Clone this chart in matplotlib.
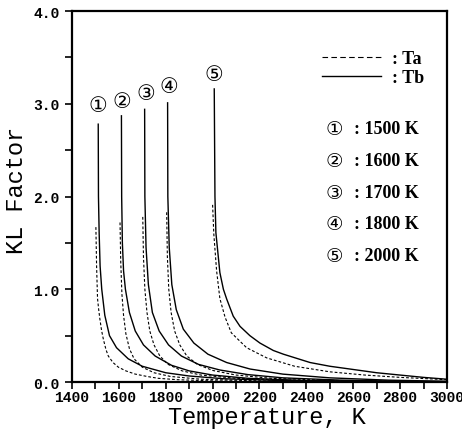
import matplotlib
matplotlib.use("Agg")
import matplotlib.pyplot as plt
from matplotlib.lines import Line2D
from matplotlib.ticker import MultipleLocator, FormatStrFormatter

# Reference temperatures and labels
ref_temps = [1500, 1600, 1700, 1800, 2000]
marks = ["\u2460", "\u2461", "\u2462", "\u2463", "\u2464"]

# Tb curves (solid)
tb_1500_t = [1512, 1513, 1516, 1520, 1527, 1540, 1560, 1590, 1640, 1700, 1800, 1900, 2050, 2300, 2600, 3000]
tb_1500_v = [2.78, 2.00, 1.60, 1.25, 1.00, 0.72, 0.50, 0.37, 0.25, 0.17, 0.10, 0.065, 0.035, 0.015, 0.006, 0.002]
tb_1600_t = [1611, 1612, 1615, 1620, 1628, 1645, 1670, 1705, 1755, 1825, 1900, 2000, 2150, 2400, 2700, 3000]
tb_1600_v = [2.87, 2.00, 1.50, 1.20, 1.00, 0.75, 0.55, 0.40, 0.28, 0.18, 0.12, 0.075, 0.04, 0.015, 0.006, 0.002]
tb_1700_t = [1710, 1711, 1716, 1726, 1743, 1772, 1812, 1867, 1940, 2030, 2150, 2300, 2550, 2800, 3000]
tb_1700_v = [2.94, 2.00, 1.45, 1.05, 0.75, 0.55, 0.40, 0.28, 0.19, 0.13, 0.08, 0.045, 0.02, 0.008, 0.004]
tb_1800_t = [1808, 1809, 1815, 1826, 1845, 1875, 1920, 1980, 2060, 2160, 2300, 2500, 2750, 3000]
tb_1800_v = [3.01, 2.00, 1.45, 1.05, 0.78, 0.57, 0.42, 0.30, 0.21, 0.14, 0.085, 0.045, 0.02, 0.008]
tb_2000_t = [2007, 2010, 2014, 2031, 2046, 2060, 2088, 2117, 2159, 2202, 2259, 2302, 2416, 2500, 2586, 2700, 2800, 2900, 3000]
tb_2000_v = [3.16, 2.00, 1.61, 1.18, 1.00, 0.895, 0.71, 0.60, 0.50, 0.42, 0.34, 0.30, 0.21, 0.17, 0.14, 0.10, 0.075, 0.05, 0.03]

# Ta curves (dashed)
ta_1500_t = [1502, 1505, 1509, 1514, 1519, 1526, 1534, 1545, 1555, 1575, 1598, 1630, 1669, 1720, 1768, 1850, 2000, 2300, 3000]
ta_1500_v = [1.67, 1.25, 0.90, 0.78, 0.68, 0.56, 0.46, 0.35, 0.28, 0.21, 0.16, 0.12, 0.086, 0.06, 0.04, 0.025, 0.012, 0.004, 0.001]
ta_1600_t = [1605, 1608, 1613, 1620, 1630, 1645, 1665, 1700, 1750, 1820, 1950, 2200, 2600, 3000]
ta_1600_v = [1.72, 1.30, 0.95, 0.72, 0.52, 0.36, 0.25, 0.16, 0.10, 0.06, 0.03, 0.012, 0.004, 0.001]
ta_1700_t = [1702, 1705, 1711, 1720, 1732, 1750, 1775, 1810, 1870, 1950, 2100, 2350, 2700, 3000]
ta_1700_v = [1.78, 1.35, 1.00, 0.75, 0.55, 0.40, 0.28, 0.19, 0.12, 0.075, 0.04, 0.018, 0.006, 0.002]
ta_1800_t = [1804, 1807, 1813, 1823, 1838, 1860, 1890, 1935, 2000, 2100, 2250, 2500, 2800, 3000]
ta_1800_v = [1.83, 1.35, 1.00, 0.75, 0.55, 0.40, 0.28, 0.19, 0.125, 0.075, 0.04, 0.018, 0.007, 0.003]
ta_2000_t = [2000, 2005, 2017, 2031, 2053, 2080, 2145, 2231, 2350, 2500, 2650, 2800, 3000]
ta_2000_v = [1.91, 1.60, 1.20, 0.90, 0.70, 0.53, 0.37, 0.26, 0.17, 0.11, 0.075, 0.05, 0.025]

tb_curves = [(tb_1500_t, tb_1500_v), (tb_1600_t, tb_1600_v), (tb_1700_t, tb_1700_v),
             (tb_1800_t, tb_1800_v), (tb_2000_t, tb_2000_v)]
ta_curves = [(ta_1500_t, ta_1500_v), (ta_1600_t, ta_1600_v), (ta_1700_t, ta_1700_v),
             (ta_1800_t, ta_1800_v), (ta_2000_t, ta_2000_v)]

# where the circled numbers sit above each Tb peak
mark_t = [1512, 1612, 1716, 1812, 2006]
mark_v = [2.99, 3.03, 3.12, 3.19, 3.32]

mono = ["Liberation Mono", "DejaVu Sans Mono"]
serif = ["Liberation Serif", "DejaVu Sans"]

fig = plt.figure(figsize=(4.62, 4.35), dpi=100)
ax = fig.add_axes([0.1558, 0.1195, 0.8117, 0.8529])

for t, v in tb_curves:
    ax.plot(t, v, color="black", lw=1.0, solid_joinstyle="round")
for t, v in ta_curves:
    ax.plot(t, v, color="black", lw=0.8, dashes=(2.5, 1.8))

for m, t, v in zip(marks, mark_t, mark_v):
    ax.text(t, v, m, ha="center", va="center", fontsize=15, family=["DejaVu Sans"])

# legend for line styles
handles = [Line2D([], [], color="black", lw=0.8, dashes=(5, 3)),
           Line2D([], [], color="black", lw=1.0)]
ax.legend(handles, [": Ta", ": Tb"], loc="upper left", bbox_to_anchor=(0.642, 0.918),
          frameon=False, handlelength=3.3, handletextpad=0.6, labelspacing=0.1,
          borderpad=0, prop={"family": serif, "weight": "bold", "size": 13})

# temperature key
key_y = [0.682, 0.596, 0.511, 0.426, 0.340]
for m, T, y in zip(marks, ref_temps, key_y):
    ax.text(0.700, y, m, transform=ax.transAxes, ha="center", va="center",
            fontsize=14, family=["DejaVu Sans"])
    ax.text(0.752, y, f": {T} K", transform=ax.transAxes, ha="left", va="center",
            fontsize=13, weight="bold", family=serif)

ax.set_xlim(1400, 3000)
ax.set_ylim(0, 4)
ax.xaxis.set_major_locator(MultipleLocator(200))
ax.xaxis.set_minor_locator(MultipleLocator(100))
ax.yaxis.set_major_locator(MultipleLocator(1.0))
ax.yaxis.set_minor_locator(MultipleLocator(0.5))
ax.yaxis.set_major_formatter(FormatStrFormatter("%.1f"))
ax.tick_params(which="both", direction="out", length=5, width=1.2)
ax.tick_params(axis="x", pad=1)
ax.tick_params(axis="y", pad=4)
for lab in ax.get_xticklabels() + ax.get_yticklabels():
    lab.set_family(mono)
    lab.set_fontsize(10.5)
    lab.set_fontweight("bold")
for s in ax.spines.values():
    s.set_linewidth(1.6)

ax.set_xlabel("Temperature, K", family=mono, fontsize=17)
ax.set_ylabel("KL Factor", family=mono, fontsize=17)
ax.xaxis.set_label_coords(0.519, -0.062)
ax.yaxis.set_label_coords(-0.118, 0.52)

fig.savefig("out.png", dpi=100)
